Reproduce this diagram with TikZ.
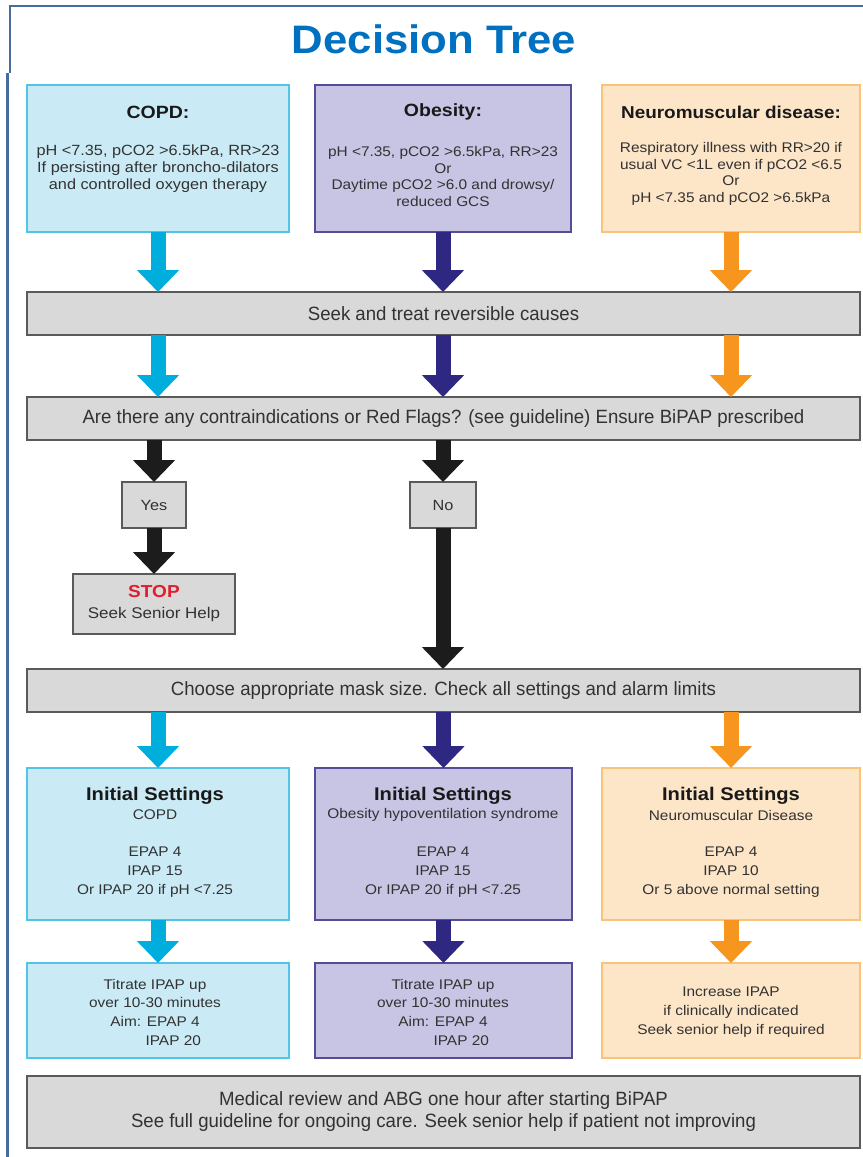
\documentclass[tikz,border=0pt]{standalone}
\usepackage{fontspec}
\setmainfont{Liberation Sans}
\newfontfamily\bodyfont[FakeStretch=1.1]{Liberation Sans}
\newfontfamily\grayfont[FakeStretch=0.97]{Liberation Sans}
\newfontfamily\titlefont[FakeStretch=1.1]{Liberation Sans}
\usetikzlibrary{arrows.meta}
\definecolor{titleblue}{RGB}{0,112,192}
\definecolor{framecol}{RGB}{72,108,158}
\definecolor{cyanA}{RGB}{0,174,222}
\definecolor{cyanFill}{RGB}{202,235,246}
\definecolor{cyanLine}{RGB}{82,196,232}
\definecolor{purA}{RGB}{46,40,130}
\definecolor{purFill}{RGB}{200,196,228}
\definecolor{purLine}{RGB}{84,76,150}
\definecolor{orA}{RGB}{246,150,30}
\definecolor{orFill}{RGB}{253,229,200}
\definecolor{orLine}{RGB}{249,196,122}
\definecolor{grayFill}{RGB}{217,217,217}
\definecolor{grayLine}{RGB}{90,90,90}
\definecolor{blkA}{RGB}{28,28,28}
\definecolor{txt}{RGB}{50,50,50}
\definecolor{headtxt}{RGB}{25,25,25}
\definecolor{stopred}{RGB}{226,30,45}
\begin{document}
\begin{tikzpicture}[x=0.75pt,y=-0.75pt,
  box/.style={draw, inner sep=0pt, outer sep=0pt, line width=1.1pt},
  cbox/.style={box, fill=cyanFill, draw=cyanLine},
  pbox/.style={box, fill=purFill, draw=purLine},
  obox/.style={box, fill=orFill, draw=orLine},
  gbox/.style={box, fill=grayFill, draw=grayLine, line width=1.2pt},
  widebox/.style={gbox, minimum width=624.75pt, minimum height=32.25pt},
  graytext/.style={text=txt, align=center, font={\grayfont\fontsize{14.4pt}{16.5pt}\selectfont}},
  yntext/.style={text=txt, align=center, font={\bodyfont\fontsize{11.1pt}{15.75pt}\selectfont}},
  flow/.style={line width=11.25pt, -{Triangle[width=30.75pt,length=16.5pt]}},
  head/.style={text=headtxt, inner sep=0pt, font={\bodyfont\bfseries\fontsize{13.3pt}{14pt}\selectfont}},
  ihead/.style={text=headtxt, inner sep=0pt, font={\bodyfont\bfseries\fontsize{13.75pt}{14pt}\selectfont}},
  smalltop/.style={text=txt, inner sep=0pt, align=center, font={\bodyfont\fontsize{10.5pt}{12.5pt}\selectfont}},
  smallbot/.style={text=txt, inner sep=0pt, align=center, font={\bodyfont\fontsize{10.5pt}{14pt}\selectfont}}
]
\useasboundingbox (0,0) rectangle (863,1157);
\fill[white] (0,0) rectangle (863,1157);
% frame
\draw[framecol, line width=2pt] (10,73) -- (10,6) -- (863,6);
\draw[framecol, line width=2pt] (7.5,73) -- (7.5,1157);
% title
\node[font={\titlefont\bfseries\fontsize{29.8pt}{32pt}\selectfont}, text=titleblue, inner sep=0pt] (title) at (434,39) {Decision Tree};

% top boxes
\node[cbox, minimum width=196.5pt, minimum height=110.25pt] (copd) at (158,158.5) {};
\node[pbox, minimum width=192pt, minimum height=110.25pt] (obes) at (443,158.5) {};
\node[obox, minimum width=193.5pt, minimum height=110.25pt] (neuro) at (731,158.5) {};
\node[head] (copdH) at (158,112) {COPD:};
\node[smalltop, font={\bodyfont\fontsize{11.1pt}{12.6pt}\selectfont}] (copdB) at (158,168.5) {pH <7.35, pCO2 >6.5kPa, RR>23\\If persisting after broncho-dilators\\and controlled oxygen therapy};
\node[head] (obesH) at (443,112) {Obesity:};
\node[smalltop] (obesB) at (443,176.5) {pH <7.35, pCO2 >6.5kPa, RR>23\\Or\\Daytime pCO2 >6.0 and drowsy/\\reduced GCS};
\node[head, font={\bodyfont\bfseries\fontsize{12.9pt}{14pt}\selectfont}] (neuroH) at (731,112) {Neuromuscular disease:};
\node[smalltop] (neuroB) at (731,174) {Respiratory illness with RR>20 if\\usual VC <1L even if pCO2 <6.5\\Or\\pH <7.35 and pCO2 >6.5kPa};

% gray steps
\node[widebox, graytext] (seek) at (443.5,313.5) {Seek and treat reversible causes};
\node[widebox, graytext] (contra) at (443.5,418.5) {Are there any contraindications or Red Flags? (see guideline) Ensure BiPAP prescribed};
\node[gbox, minimum width=48pt, minimum height=34.5pt, yntext] (yes) at (154,505) {Yes};
\node[gbox, minimum width=49.5pt, minimum height=34.5pt, yntext] (no) at (443,505) {No};
\node[gbox, minimum width=121.5pt, minimum height=45pt, yntext, font={\bodyfont\fontsize{11.6pt}{15.75pt}\selectfont}] (stop) at (154,604) {{\bfseries\color{stopred}\fontsize{13pt}{14pt}\selectfont STOP}\\Seek Senior Help};
\node[widebox, graytext] (mask) at (443.5,690.5) {Choose appropriate mask size. Check all settings and alarm limits};

% initial settings
\node[cbox, minimum width=196.5pt, minimum height=114pt] (copdI) at (158,844) {};
\node[pbox, minimum width=192.75pt, minimum height=114pt] (obesI) at (443.5,844) {};
\node[obox, minimum width=193.5pt, minimum height=114pt] (neuroI) at (731,844) {};
\node[ihead] (copdIH) at (155,796) {Initial Settings};
\node[smallbot] (copdIS) at (155,815) {COPD};
\node[smallbot] (copdIB) at (155,872) {EPAP 4\\IPAP 15\\Or IPAP 20 if pH <7.25};
\node[ihead] (obesIH) at (443,796) {Initial Settings};
\node[smallbot] (obesIS) at (443,815) {Obesity hypoventilation syndrome};
\node[smallbot] (obesIB) at (443,872) {EPAP 4\\IPAP 15\\Or IPAP 20 if pH <7.25};
\node[ihead] (neuroIH) at (731,796) {Initial Settings};
\node[smallbot] (neuroIS) at (731,815) {Neuromuscular Disease};
\node[smallbot] (neuroIB) at (731,872) {EPAP 4\\IPAP 10\\Or 5 above normal setting};

% titration boxes
\node[cbox, minimum width=196.5pt, minimum height=71.25pt] (copdT) at (158,1010.5) {};
\node[pbox, minimum width=192.75pt, minimum height=71.25pt] (obesT) at (443.5,1010.5) {};
\node[obox, minimum width=193.5pt, minimum height=71.25pt] (neuroT) at (731,1010.5) {};
\node[smallbot] (copdTB) at (155,1012) {Titrate IPAP up\\over 10-30 minutes\\Aim: EPAP 4\\\hphantom{Aim: }IPAP 20};
\node[smallbot] (obesTB) at (443,1012) {Titrate IPAP up\\over 10-30 minutes\\Aim: EPAP 4\\\hphantom{Aim: }IPAP 20};
\node[smallbot] (neuroTB) at (731,1012) {Increase IPAP\\if clinically indicated\\Seek senior help if required};

% final
\node[gbox, minimum width=624.75pt, minimum height=54pt, graytext] (final) at (443.5,1112) {Medical review and ABG one hour after starting BiPAP\\See full guideline for ongoing care. Seek senior help if patient not improving};

% arrows
\draw[flow, cyanA] (copd.south) -- (copd.south |- seek.north);
\draw[flow, purA] (obes.south) -- (obes.south |- seek.north);
\draw[flow, orA] (neuro.south) -- (neuro.south |- seek.north);
\draw[flow, cyanA] (copd.south |- seek.south) -- (copd.south |- contra.north);
\draw[flow, purA] (obes.south |- seek.south) -- (obes.south |- contra.north);
\draw[flow, orA] (neuro.south |- seek.south) -- (neuro.south |- contra.north);
\draw[flow, blkA] (yes.north |- contra.south) -- (yes.north);
\draw[flow, blkA] (no.north |- contra.south) -- (no.north);
\draw[flow, blkA] (yes.south) -- (stop.north);
\draw[flow, blkA] (no.south) -- (no.south |- mask.north);
\draw[flow, cyanA] (copdI.north |- mask.south) -- (copdI.north);
\draw[flow, purA] (obesI.north |- mask.south) -- (obesI.north);
\draw[flow, orA] (neuroI.north |- mask.south) -- (neuroI.north);
\draw[flow, cyanA] (copdI.south) -- (copdT.north);
\draw[flow, purA] (obesI.south) -- (obesT.north);
\draw[flow, orA] (neuroI.south) -- (neuroT.north);
\end{tikzpicture}
\end{document}
